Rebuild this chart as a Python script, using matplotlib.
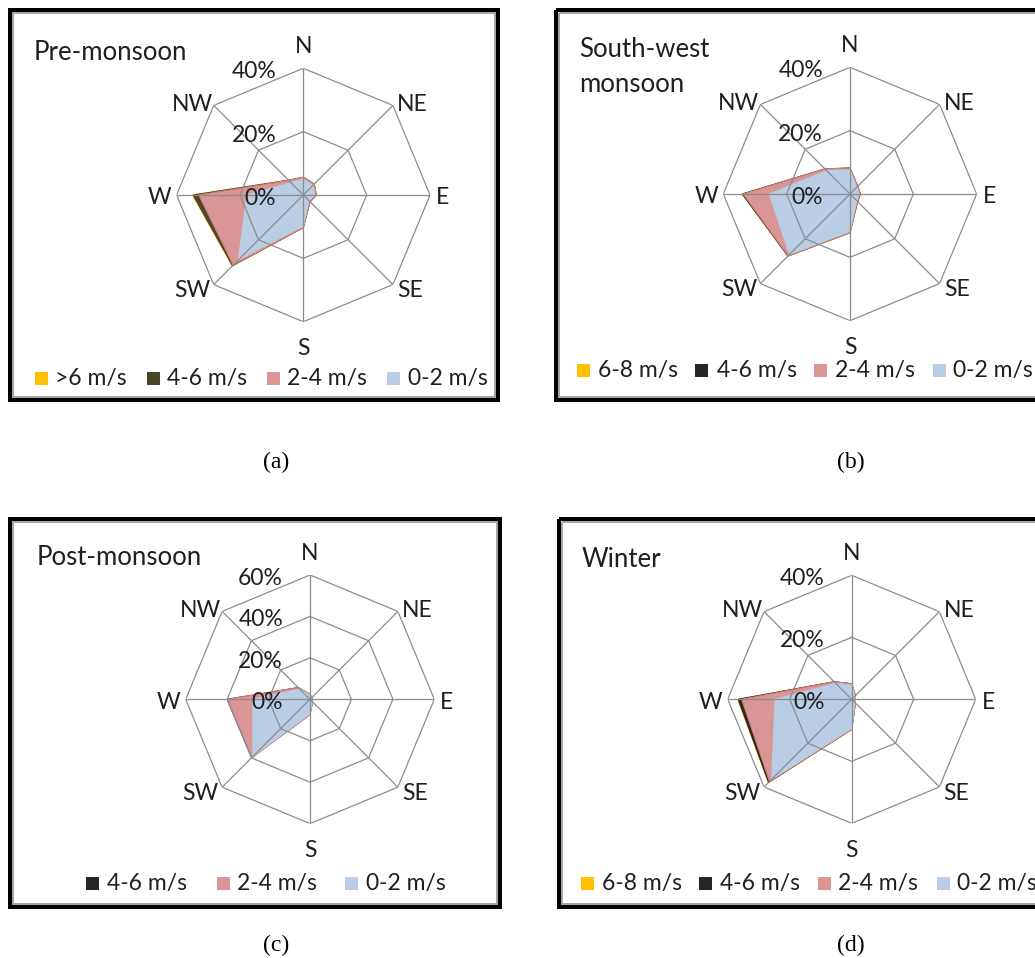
import numpy as np
import matplotlib
matplotlib.use("Agg")
import matplotlib.pyplot as plt
from matplotlib.patches import Rectangle

FIG_W, FIG_H, DPI = 1035, 958, 100
plt.rcParams["font.family"] = ["Lato", "DejaVu Sans"]

DIRECTIONS = ["N", "NE", "E", "SE", "S", "SW", "W", "NW"]

# Wind frequency (%) of each speed class, directions in order N, NE, E, SE, S, SW, W, NW
pre_0_2 = [5.0, 4.3, 3.6, 2.5, 9.8, 29.0, 17.8, 5.5]
pre_2_4 = [0.6, 0.6, 0.5, 0.5, 0.5, 2.3, 15.2, 1.0]
pre_4_6 = [0.0, 0.0, 0.0, 0.0, 0.0, 0.3, 1.8, 0.1]
pre_gt6 = [0.0, 0.0, 0.0, 0.0, 0.0, 0.1, 0.2, 0.0]

sw_0_2 = [7.6, 3.0, 2.9, 3.0, 11.8, 27.0, 25.5, 10.4]
sw_2_4 = [0.6, 0.4, 0.4, 0.4, 0.4, 0.6, 8.2, 0.8]
sw_4_6 = [0.0, 0.0, 0.0, 0.0, 0.0, 0.1, 0.3, 0.0]
sw_6_8 = [0.0, 0.0, 0.0, 0.0, 0.0, 0.0, 0.05, 0.0]

post_0_2 = [2.0, 1.0, 0.8, 1.5, 7.0, 39.0, 27.6, 7.0]
post_2_4 = [0.4, 0.2, 0.2, 0.2, 0.4, 0.8, 12.2, 1.0]
post_4_6 = [0.0, 0.0, 0.0, 0.0, 0.0, 0.0, 0.2, 0.0]

win_0_2 = [4.6, 1.5, 1.0, 1.5, 9.4, 36.5, 24.7, 7.3]
win_2_4 = [0.4, 0.2, 0.2, 0.2, 0.3, 1.0, 10.8, 0.7]
win_4_6 = [0.0, 0.0, 0.0, 0.0, 0.0, 0.4, 1.1, 0.0]
win_6_8 = [0.0, 0.0, 0.0, 0.0, 0.0, 0.1, 0.2, 0.0]

BLUE = "#B9CDE5"
PINK = "#D99694"
OLIVE = "#4A452A"
BLACK = "#262626"
GOLD = "#FFC000"
GRID = "#8C8C8C"
TEXT = "#1F1F1F"

FS = 16.5
TITLE_FS = 18.5
CAP = FS / 72 * DPI * 0.7165

panels = [
    dict(title=[("Pre-monsoon", 34, 60)], centre=(303.3, 195.0), radius=126.7, rmax=40,
         rings=[20, 40],
         classes=[(">6 m/s", pre_gt6, GOLD), ("4-6 m/s", pre_4_6, OLIVE),
                  ("2-4 m/s", pre_2_4, PINK), ("0-2 m/s", pre_0_2, BLUE)],
         mark_x=[35, 146.7, 266.7, 386.7], text_x=[55, 166.7, 286.7, 408.3], base=385,
         box=(10, 10, 498, 400), caption=("(a)", 276, 462)),
    dict(title=[("South-west", 579, 56.7), ("monsoon", 579, 91.7)], centre=(850.0, 194.0),
         radius=126.7, rmax=40, rings=[20, 40],
         classes=[("6-8 m/s", sw_6_8, GOLD), ("4-6 m/s", sw_4_6, BLACK),
                  ("2-4 m/s", sw_2_4, PINK), ("0-2 m/s", sw_0_2, BLUE)],
         mark_x=[577, 695, 814, 933], text_x=[598.3, 716.7, 835, 953.3], base=377,
         box=(556, 10, 1050, 400), caption=("(b)", 851, 462)),
    dict(title=[("Post-monsoon", 37, 565)], centre=(310.0, 699.3), radius=124.3, rmax=60,
         rings=[20, 40, 60],
         classes=[("4-6 m/s", post_4_6, BLACK), ("2-4 m/s", post_2_4, PINK),
                  ("0-2 m/s", post_0_2, BLUE)],
         mark_x=[86, 216.7, 345], text_x=[106.7, 236.7, 366], base=890,
         box=(10, 519, 500, 907), caption=("(c)", 276, 945)),
    dict(title=[("Winter", 582, 567)], centre=(851.7, 699.3), radius=124.0, rmax=40,
         rings=[20, 40],
         classes=[("6-8 m/s", win_6_8, GOLD), ("4-6 m/s", win_4_6, BLACK),
                  ("2-4 m/s", win_2_4, PINK), ("0-2 m/s", win_0_2, BLUE)],
         mark_x=[581, 699, 818.3, 936.7], text_x=[601.7, 720, 838.3, 956.7], base=890,
         box=(559, 519, 1050, 907), caption=("(d)", 851, 945)),
]

# label offsets (pixels, +y up) of the cap-height centre from each outer vertex
LABEL_OFFSET = {"N": (0, 23.5), "NE": (19.5, 3), "E": (12.5, -1), "SE": (17, -4.5),
                "S": (0, -25), "SW": (-21.5, -4.5), "W": (-17, -1), "NW": (-21.5, 3)}

fig = plt.figure(figsize=(FIG_W / DPI, FIG_H / DPI), dpi=DPI)
bg = fig.add_axes([0, 0, 1, 1])
bg.set_xlim(0, FIG_W)
bg.set_ylim(FIG_H, 0)
bg.axis("off")

theta = np.deg2rad(np.arange(len(DIRECTIONS)) * 45.0)
closed = np.append(theta, theta[0])

for p in panels:
    # frame
    x0, y0, x1, y1 = p["box"]
    bg.add_patch(Rectangle((x0, y0), x1 - x0, y1 - y0, fill=False,
                           edgecolor="black", lw=4 * 0.72))
    bg.add_patch(Rectangle((x0 + 3, y0 + 3), x1 - x0 - 6, y1 - y0 - 6, fill=False,
                           edgecolor="#A6A6A6", lw=2 * 0.72))
    for txt, tx, ty in p["title"]:
        bg.text(tx, ty, txt, ha="left", va="baseline", fontsize=TITLE_FS, color=TEXT)
    cap, cxp, cyp = p["caption"]
    bg.text(cxp, cyp, cap, ha="center", va="center", fontsize=17,
            family="Liberation Serif", color="black")

    # legend
    for (label, _, color), mx, tx in zip(p["classes"], p["mark_x"], p["text_x"]):
        bg.add_patch(Rectangle((mx, p["base"] - 13.5), 13, 13, facecolor=color,
                               edgecolor="none"))
        bg.text(tx, p["base"], label, ha="left", va="baseline", fontsize=FS, color=TEXT)

    # radar
    cx, cy = p["centre"]
    R = p["radius"]
    ax = fig.add_axes([(cx - R) / FIG_W, (FIG_H - cy - R) / FIG_H, 2 * R / FIG_W, 2 * R / FIG_H],
                      projection="polar")
    ax.set_theta_zero_location("N")
    ax.set_theta_direction(-1)
    ax.axis("off")

    slow_first = p["classes"][::-1]
    totals = np.cumsum([np.asarray(v, float) for _, v, _ in slow_first], axis=0)
    for (label, _, color), total in reversed(list(zip(slow_first, totals))):
        edge = "#CF7E7D" if color == PINK else color
        ax.fill(closed, np.append(total, total[0]), facecolor=color, edgecolor=edge,
                lw=0.8, zorder=2)

    for r in p["rings"]:
        ax.plot(closed, np.full(closed.size, r), color=GRID, lw=0.9, zorder=3)
    for t in theta:
        ax.plot([t, t], [0, p["rmax"]], color=GRID, lw=0.9, zorder=3)

    for name, t in zip(DIRECTIONS, theta):
        dx, dy = LABEL_OFFSET[name]
        ax.annotate(name, (t, p["rmax"]), xytext=(dx, dy - CAP / 2),
                    textcoords="offset pixels", ha="center", va="baseline",
                    fontsize=FS, color=TEXT, annotation_clip=False, zorder=4)
    for r in [0] + p["rings"]:
        ax.annotate(f"{r}%", (0, r), xytext=(-27, -1.7 - CAP / 2),
                    textcoords="offset pixels", ha="right", va="baseline",
                    fontsize=FS, color=TEXT, annotation_clip=False, zorder=4)
    ax.set_ylim(0, p["rmax"])

fig.savefig("out.png", dpi=DPI)
